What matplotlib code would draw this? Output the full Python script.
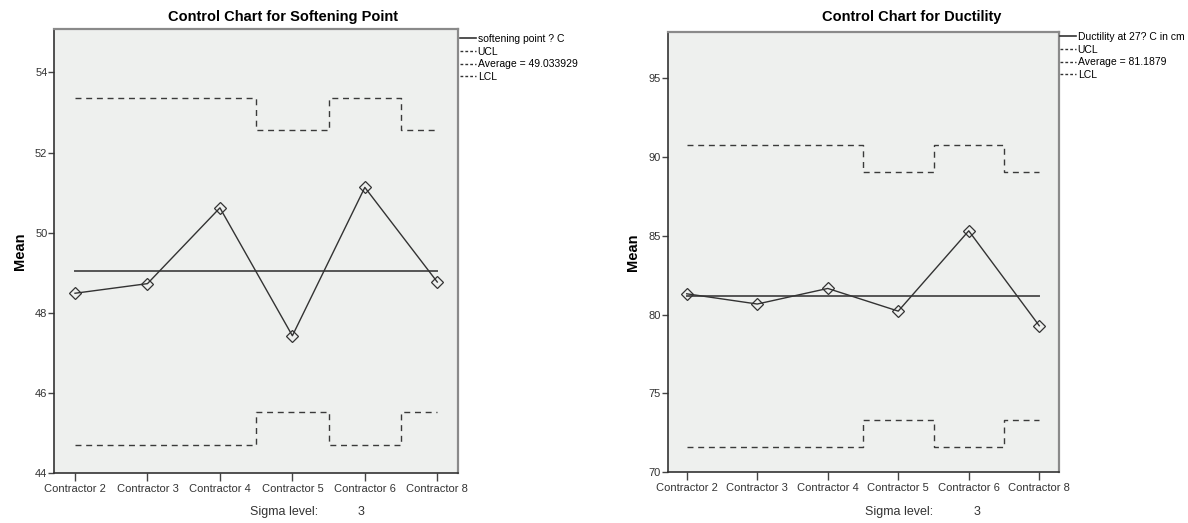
'''
plot.py

Recreate the two SPSS-style control charts (softening point, ductility)
for contractor sample means with step UCL / LCL lines.
'''

import matplotlib
matplotlib.use('Agg')
import matplotlib.pyplot as plt
from matplotlib.lines import Line2D

plt.rcParams['font.family'] = ['Liberation Sans', 'DejaVu Sans']

# ============================================
# Data
# ============================================
contractors = ['Contractor 2', 'Contractor 3', 'Contractor 4',
               'Contractor 5', 'Contractor 6', 'Contractor 8']

soft_means = [48.49, 48.73, 50.62, 47.43, 51.13, 48.77]
soft_ucl = [53.35, 53.35, 53.35, 52.55, 53.35, 52.55]
soft_lcl = [44.71, 44.71, 44.71, 45.52, 44.71, 45.52]
soft_avg = 49.033929
soft_yticks = [44, 46, 48, 50, 52, 54]

duct_means = [81.32, 80.67, 81.66, 80.22, 85.32, 79.29]
duct_ucl = [90.80, 90.80, 90.80, 89.05, 90.80, 89.05]
duct_lcl = [71.58, 71.58, 71.58, 73.33, 71.58, 73.33]
duct_avg = 81.1879
duct_yticks = [70, 75, 80, 85, 90, 95]

W, H = 1188, 523
BG = '#eef0ee'
DASH = (0, (4.3, 3.4))


# ============================================
# Function: draw one control chart panel
# ============================================
def draw_panel(fig, box, means, ucl, lcl, avg, yticks, ylim, xlim,
               title, title_x, series_label, avg_label, legend_xy, sigma_x):
    left, top, right, bottom = box
    ax = fig.add_axes([left / W, 1 - bottom / H,
                       (right - left) / W, (bottom - top) / H])
    ax.set_facecolor(BG)
    x = list(range(len(contractors)))

    ax.plot(x, ucl, drawstyle='steps-mid', color='#3a3a3a', lw=1.0,
            linestyle=DASH)
    ax.plot(x, lcl, drawstyle='steps-mid', color='#3a3a3a', lw=1.0,
            linestyle=DASH)
    ax.plot([x[0], x[-1]], [avg, avg], color='#555555', lw=1.4)
    ax.plot(x, means, color='#333333', lw=1.0, marker='D', ms=6,
            mfc='none', mec='#333333', mew=0.9)

    ax.set_xlim(*xlim)
    ax.set_ylim(*ylim)
    ax.set_xticks(x)
    ax.set_xticklabels(contractors, fontsize=8, color='#333333')
    ax.set_yticks(yticks)
    ax.set_yticklabels([str(t) for t in yticks], fontsize=8, color='#333333')
    ax.tick_params(axis='x', length=6, width=1, color='#444444', pad=2)
    ax.tick_params(axis='y', length=4, width=1, color='#444444', pad=1)
    ax.set_ylabel('Mean', fontsize=10.5, fontweight='bold', labelpad=6)

    for side in ['left', 'bottom']:
        ax.spines[side].set_color('#333333')
        ax.spines[side].set_linewidth(1.2)
    for side in ['top', 'right']:
        ax.spines[side].set_color('#8a8a8a')
        ax.spines[side].set_linewidth(1.6)

    fig.text(title_x / W, 1 - 17 / H, title, ha='center', va='center',
             fontsize=10.5, fontweight='bold')

    handles = [Line2D([], [], color='#333333', lw=1.2),
               Line2D([], [], color='#333333', lw=1.0, linestyle=(0, (2, 1.5))),
               Line2D([], [], color='#333333', lw=1.0, linestyle=(0, (2, 1.5))),
               Line2D([], [], color='#333333', lw=1.0, linestyle=(0, (2, 1.5)))]
    labels = [series_label, 'UCL', avg_label, 'LCL']
    fig.legend(handles, labels, loc='upper left',
               bbox_to_anchor=(legend_xy[0] / W, 1 - legend_xy[1] / H),
               frameon=False, fontsize=7.5, handlelength=1.5,
               handletextpad=0.2, labelspacing=0.25, borderpad=0,
               borderaxespad=0)

    fig.text(sigma_x[0] / W, 1 - 512 / H, 'Sigma level:', ha='left',
             va='center', fontsize=9, color='#333333')
    fig.text(sigma_x[1] / W, 1 - 512 / H, '3', ha='center',
             va='center', fontsize=9, color='#333333')
    return ax


# ============================================
# Main Runner
# ============================================
def main():
    fig = plt.figure(figsize=(W / 100, H / 100), dpi=100)

    draw_panel(fig, (54.3, 29, 458.3, 473.3), soft_means, soft_ucl, soft_lcl,
               soft_avg, soft_yticks, (44, 55.08), (-0.286, 5.29),
               'Control Chart for Softening Point', 283,
               'softening point ? C', 'Average = 49.033929',
               (460, 34), (250, 361))

    draw_panel(fig, (667.7, 32, 1059, 472), duct_means, duct_ucl, duct_lcl,
               duct_avg, duct_yticks, (70, 97.95), (-0.27, 5.28),
               'Control Chart for Ductility', 912,
               'Ductility at 27? C in cm', 'Average = 81.1879',
               (1060, 32), (865, 977))

    fig.savefig('out.png', dpi=100, facecolor='white')
    plt.close(fig)


if __name__ == '__main__':
    main()
